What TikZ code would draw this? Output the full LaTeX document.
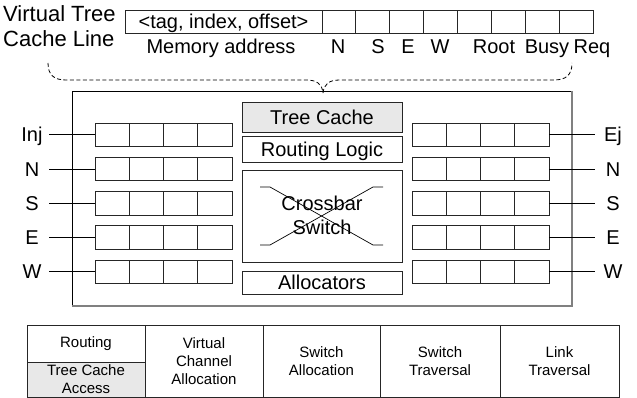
\documentclass[tikz,border=0pt]{standalone}
\usepackage{fontspec}
\setmainfont{Liberation Sans}
\definecolor{shade}{gray}{0.91}
\definecolor{edge}{gray}{0.15}
\begin{document}
\begin{tikzpicture}[x=1pt,y=-1pt,
  big/.style={font=\fontsize{20}{24}\selectfont, text height=14.3pt, text depth=0pt, inner sep=0pt},
  title/.style={font=\fontsize{22}{24}\selectfont, text height=15.8pt, text depth=0pt, inner sep=0pt},
  small/.style={font=\fontsize{15}{18}\selectfont, align=center, inner sep=0pt},
  cell/.style={draw=edge, line width=0.9pt, minimum width=34.25pt, minimum height=23.5pt, inner sep=0pt, outer sep=0pt},
  topcell/.style={draw=edge, line width=0.9pt, minimum height=23pt, inner sep=0pt, outer sep=0pt},
  unit/.style={draw=edge, line width=0.9pt, minimum width=160pt, inner sep=0pt, outer sep=0pt},
  stage/.style={draw=edge, line width=0.9pt, inner sep=0pt, outer sep=0pt},
  wire/.style={line width=0.9pt},
  brace/.style={line width=0.8pt, dash pattern=on 4pt off 2.5pt}
]
\useasboundingbox (0,0) rectangle (637,398);

% cache line layout
\node[title, anchor=west] (vt1) at (3,14) {Virtual Tree};
\node[title, anchor=west] (vt2) at (3,38.5) {Cache Line};
\node[topcell, minimum width=197pt] (tag) at (223.5,21.5) {};
\node[big] (tagtxt) at (223.5,21.5) {<tag, index, offset>};
\foreach \k in {1,...,8}
  \node[topcell, minimum width=33.875pt] (fld\k) at ({322+33.875*(\k-0.5)},21.5) {};
\node[big] (fma) at (221,46) {Memory address};
\node[big] (fN) at (338,46) {N};
\node[big] (fS) at (378,46) {S};
\node[big] (fE) at (408,46) {E};
\node[big] (fW) at (440,46) {W};
\node[big] (fRoot) at (494,46) {Root};
\node[big] (fBusy) at (547,46) {Busy};
\node[big] (fReq) at (592,46) {Req};

% dashed brace
\coordinate (bl) at (48,63);
\coordinate (btip) at (323,93);
\coordinate (br) at (572,63);
\draw[brace] (bl) .. controls (48,75) and (54,80) .. (66,80) -- (306,80)
  .. controls (317,80) and (322,84) .. (btip);
\draw[brace] (btip) .. controls (324,84) and (329,80) .. (340,80) -- (554,80)
  .. controls (566,80) and (572,75) .. (br);

% router outline
\node[draw=black, line width=0.9pt, minimum width=500pt, minimum height=215pt, inner sep=0pt, outer sep=0pt] (router) at (322,198.5) {};
\draw[gray, line width=1.4pt] (router.south west) -- (router.south east) -- (router.north east);

% central units
\node[unit, minimum height=30pt, fill=shade] (tc) at (322,117) {};
\node[big] at (tc) {Tree Cache};
\node[unit, minimum height=26pt] (rl) at (322,149) {};
\node[big] at (rl) {Routing Logic};
\node[unit, minimum height=92pt] (xb) at (322,216) {};
\node[big] (xbt1) at (322,203.5) {Crossbar};
\node[big] (xbt2) at (322,227) {Switch};
\draw[line width=0.7pt] (260,187) -- (270,187) -- (373,245) -- (383,245);
\draw[line width=0.7pt] (260,245) -- (270,245) -- (373,187) -- (383,187);
\node[unit, minimum height=23pt] (al) at (322,282.5) {};
\node[big] at (al) {Allocators};

% input and output buffers
\foreach \lab [count=\r] in {Inj,N,S,E,W} {
  \pgfmathsetmacro\yc{134.75+34.25*(\r-1)}
  \foreach \k in {1,...,4}
    \node[cell] (L\r-\k) at ({95+34.25*(\k-0.5)},\yc) {};
  \node[big] (li\r) at (32,\yc) {\lab};
  \coordinate (lw\r) at (49,\yc);
  \draw[wire] (lw\r) -- (L\r-1.west);
}
\foreach \lab [count=\r] in {Ej,N,S,E,W} {
  \pgfmathsetmacro\yc{134.75+34.25*(\r-1)}
  \foreach \k in {1,...,4}
    \node[cell] (R\r-\k) at ({412+34.25*(\k-0.5)},\yc) {};
  \node[big] (ri\r) at (613,\yc) {\lab};
  \coordinate (rw\r) at (595,\yc);
  \draw[wire] (R\r-4.east) -- (rw\r);
}

% pipeline stages
\node[stage, minimum width=118pt, minimum height=37pt] (s1a) at (86,343.5) {};
\node[stage, minimum width=118pt, minimum height=35pt, fill=shade] (s1b) at (86,379.5) {};
\node[small] at (86,344) {Routing};
\node[small] at (86,379) {Tree Cache\\Access};
\node[stage, minimum width=118pt, minimum height=72pt] (s2) at (204,361) {};
\node[small] at (s2) {Virtual\\Channel\\Allocation};
\node[stage, minimum width=117pt, minimum height=72pt] (s3) at (321.5,361) {};
\node[small] at (s3) {Switch\\Allocation};
\node[stage, minimum width=120pt, minimum height=72pt] (s4) at (440,361) {};
\node[small] at (s4) {Switch\\Traversal};
\node[stage, minimum width=119pt, minimum height=72pt] (s5) at (559.5,361) {};
\node[small] at (s5) {Link\\Traversal};
\end{tikzpicture}
\end{document}
